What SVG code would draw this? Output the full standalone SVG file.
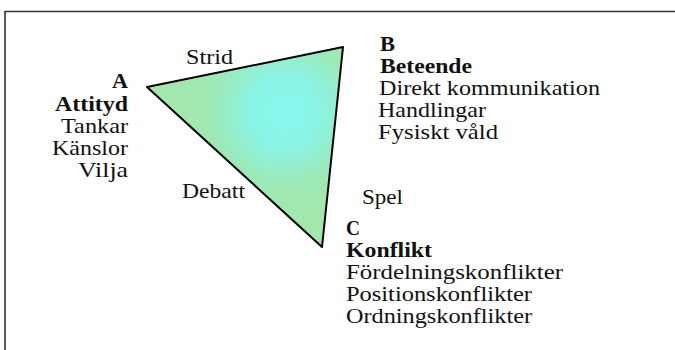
<svg xmlns="http://www.w3.org/2000/svg" width="675" height="350" viewBox="0 0 675 350">
<style>
text{font-family:"Liberation Serif",Tinos,"Times New Roman",Times,serif;font-size:21px;fill:#111;}
.b{font-weight:bold;}
</style>
<defs>
<radialGradient id="g" cx="285" cy="112" r="95" gradientUnits="userSpaceOnUse">
<stop offset="0" stop-color="#86f8f0"/>
<stop offset="0.35" stop-color="#8af4e6"/>
<stop offset="0.75" stop-color="#9ce9b8"/>
<stop offset="1" stop-color="#a2e7ae"/>
</radialGradient>
</defs>
<rect width="675" height="350" fill="#fff"/>
<g id="frame"><path d="M5,350 V11.5 H675" fill="none" stroke="#333" stroke-width="1.6"/></g>
<g id="triangle"><polygon points="147,87 343,47 322,247" fill="url(#g)" stroke="#000" stroke-width="2" stroke-linejoin="round"/></g>
<g id="connectors"></g>
<g id="nodeA" font-family="Liberation Serif, serif">
<text class="b" x="112" y="88" textLength="16" lengthAdjust="spacingAndGlyphs">A</text>
<text class="b" x="55" y="111" textLength="73" lengthAdjust="spacingAndGlyphs">Attityd</text>
<text x="61" y="133" textLength="67" lengthAdjust="spacingAndGlyphs">Tankar</text>
<text x="52" y="155" textLength="76" lengthAdjust="spacingAndGlyphs">Känslor</text>
<text x="78" y="177" textLength="50" lengthAdjust="spacingAndGlyphs">Vilja</text>
</g>
<g id="nodeB">
<text class="b" x="380" y="51" textLength="15" lengthAdjust="spacingAndGlyphs">B</text>
<text class="b" x="380" y="73" textLength="92" lengthAdjust="spacingAndGlyphs">Beteende</text>
<text x="379" y="95" textLength="221" lengthAdjust="spacingAndGlyphs">Direkt kommunikation</text>
<text x="378" y="117" textLength="108" lengthAdjust="spacingAndGlyphs">Handlingar</text>
<text x="378" y="139" textLength="120" lengthAdjust="spacingAndGlyphs">Fysiskt våld</text>
</g>
<g id="nodeC">
<text class="b" x="346" y="235" textLength="14" lengthAdjust="spacingAndGlyphs">C</text>
<text class="b" x="346" y="257" textLength="86" lengthAdjust="spacingAndGlyphs">Konflikt</text>
<text x="346" y="279" textLength="217" lengthAdjust="spacingAndGlyphs">Fördelningskonflikter</text>
<text x="346" y="301" textLength="186" lengthAdjust="spacingAndGlyphs">Positionskonflikter</text>
<text x="346" y="323" textLength="186" lengthAdjust="spacingAndGlyphs">Ordningskonflikter</text>
</g>
<g id="labels">
<text x="186" y="64" textLength="47" lengthAdjust="spacingAndGlyphs">Strid</text>
<text x="182" y="198" textLength="63" lengthAdjust="spacingAndGlyphs">Debatt</text>
<text x="362" y="204" textLength="41" lengthAdjust="spacingAndGlyphs">Spel</text>
</g>
</svg>
